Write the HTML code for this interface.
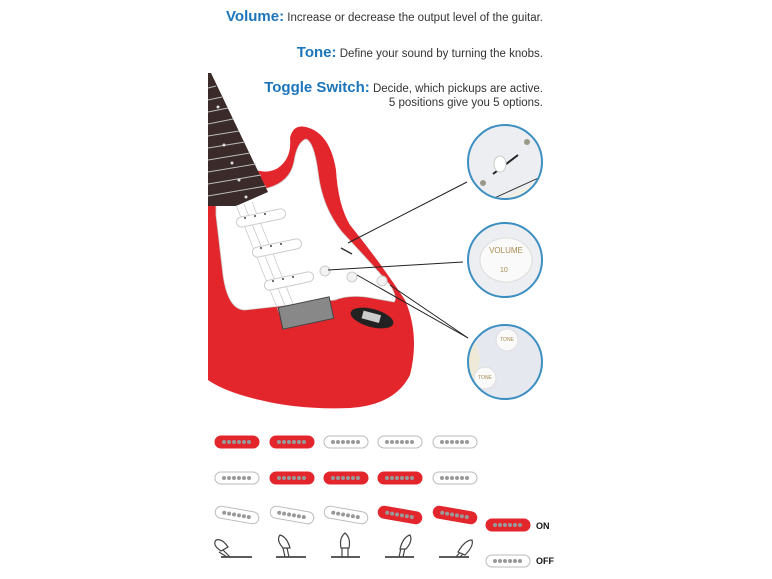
<!DOCTYPE html>
<html><head><meta charset="utf-8"><style>
html,body{margin:0;padding:0;background:#fff;width:772px;height:579px;overflow:hidden}
svg{display:block}
text{font-family:"Liberation Sans",sans-serif}
</style></head><body>
<svg width="772" height="579" viewBox="0 0 772 579" xmlns="http://www.w3.org/2000/svg">
<defs>
<g id="pu"><rect x="-22" y="-6" width="44" height="12" rx="6"/><g fill="#999" stroke="none"><circle cx="-13" cy="0" r="2"/><circle cx="-8" cy="0" r="2"/><circle cx="-3" cy="0" r="2"/><circle cx="2" cy="0" r="2"/><circle cx="7" cy="0" r="2"/><circle cx="12" cy="0" r="2"/></g></g>
<clipPath id="c1"><circle cx="505" cy="162" r="37"/></clipPath>
<clipPath id="c3"><circle cx="505" cy="362" r="37"/></clipPath>
</defs>
<g text-anchor="end" fill="#333" font-size="11.5">
<text x="543" y="21"><tspan fill="#1b75bb" font-weight="bold" font-size="15">Volume:</tspan> Increase or decrease the output level of the guitar.</text>
<text x="543" y="57"><tspan fill="#1b75bb" font-weight="bold" font-size="15">Tone:</tspan> Define your sound by turning the knobs.</text>
<text x="543" y="92"><tspan fill="#1b75bb" font-weight="bold" font-size="15">Toggle Switch:</tspan> Decide, which pickups are active.</text>
<text x="543" y="106">5 positions give you 5 options.</text>
</g>
<!-- body -->
<path d="M208,150 L235,160 Q262,178 278,168 Q292,158 290,138 Q293,124 306,127 Q330,133 336,170 Q338,205 350,225 Q380,262 405,300 Q420,335 410,375 Q395,405 350,408 Q300,410 260,400 Q225,392 208,380 Z" fill="#e3262c"/>
<path d="M216,196 L268,188 Q290,182 294,162 Q297,142 306,139 Q314,142 318,172 Q322,207 342,232 Q372,264 390,285 Q398,298 394,302 L372,298 Q350,294 335,300 L245,310 Q228,310 223,275 L216,215 Z" fill="#fff" stroke="#ccc" stroke-width="0.8"/>
<!-- neck -->
<path d="M208,73 L211,73 L268,192 L236,206 L208,206 Z" fill="#3a2a2a"/>
<g stroke="#bbb" stroke-width="1">
<line x1="208" y1="88" x2="216" y2="86"/><line x1="208" y1="100" x2="222" y2="97"/><line x1="208" y1="112" x2="228" y2="108"/><line x1="208" y1="124" x2="233" y2="119"/><line x1="208" y1="136" x2="239" y2="131"/><line x1="208" y1="148" x2="245" y2="142"/><line x1="208" y1="160" x2="250" y2="153"/><line x1="208" y1="172" x2="256" y2="164"/><line x1="208" y1="184" x2="261" y2="175"/><line x1="208" y1="196" x2="266" y2="186"/>
</g>
<g fill="#ddd"><circle cx="218" cy="107" r="1.5"/><circle cx="224" cy="145" r="1.5"/><circle cx="232" cy="163" r="1.5"/><circle cx="239" cy="180" r="1.5"/><circle cx="246" cy="197" r="1.5"/></g>
<g stroke="#bbb" stroke-width="0.6"><line x1="236" y1="205" x2="282" y2="320"/><line x1="244" y1="204" x2="290" y2="318"/><line x1="252" y1="202" x2="298" y2="316"/></g>
<g fill="#fff" stroke="#ccc" stroke-width="1">
<rect x="236" y="213" width="50" height="10" rx="5" transform="rotate(-12 261 218)"/>
<rect x="252" y="243" width="50" height="10" rx="5" transform="rotate(-12 277 248)"/>
<rect x="264" y="276" width="50" height="10" rx="5" transform="rotate(-12 289 281)"/>
</g>
<g fill="#444"><circle cx="245" cy="218" r="1"/><circle cx="255" cy="216" r="1"/><circle cx="265" cy="214" r="1"/><circle cx="261" cy="248" r="1"/><circle cx="271" cy="246" r="1"/><circle cx="281" cy="244" r="1"/><circle cx="273" cy="281" r="1"/><circle cx="283" cy="279" r="1"/><circle cx="293" cy="277" r="1"/></g>
<rect x="280" y="302" width="52" height="22" fill="#888" stroke="#444" transform="rotate(-12 306 313)"/>
<ellipse cx="372" cy="318" rx="22" ry="9" fill="#222" transform="rotate(15 372 318)"/>
<rect x="362" y="313" width="18" height="8" fill="#ccc" transform="rotate(15 372 318)"/>
<circle cx="325" cy="271" r="5" fill="#f2f2f2" stroke="#ccc"/><circle cx="352" cy="277" r="5" fill="#f2f2f2" stroke="#ccc"/><circle cx="382" cy="281" r="5" fill="#f2f2f2" stroke="#ccc"/>
<line x1="341" y1="248" x2="352" y2="254" stroke="#333" stroke-width="1.5"/>
<g stroke="#222" stroke-width="1"><line x1="348" y1="243" x2="467" y2="182"/><line x1="328" y1="270" x2="463" y2="262"/><line x1="357" y1="275" x2="468" y2="338"/><line x1="390" y1="285" x2="468" y2="338"/></g>
<circle cx="505" cy="162" r="37" fill="#eceef2"/>
<g clip-path="url(#c1)"><path d="M490,205 L545,178 L545,205 Z" fill="#f3efe0"/><line x1="490" y1="200" x2="545" y2="175" stroke="#333"/><line x1="493" y1="174" x2="518" y2="155" stroke="#222" stroke-width="2"/><ellipse cx="500" cy="164" rx="6" ry="8" fill="#fff" stroke="#ccc"/><circle cx="483" cy="183" r="3" fill="#998"/><circle cx="527" cy="142" r="3" fill="#998"/></g>
<circle cx="505" cy="162" r="37" fill="none" stroke="#3d8fc2" stroke-width="2"/>
<circle cx="505" cy="260" r="37" fill="#eceef2"/>
<ellipse cx="506" cy="260" rx="26" ry="22" fill="#fafafa" stroke="#ddd"/>
<text x="506" y="253" font-size="8" fill="#a88a50" text-anchor="middle">VOLUME</text>
<text x="500" y="272" font-size="7" fill="#a88a50">10</text>
<circle cx="505" cy="260" r="37" fill="none" stroke="#3d8fc2" stroke-width="2"/>
<circle cx="505" cy="362" r="37" fill="#e6e8f0"/>
<g clip-path="url(#c3)"><path d="M468,340 Q475,330 480,360 L470,400 Z" fill="#efe9d8"/><circle cx="507" cy="340" r="11" fill="#fafafa" stroke="#ddd"/><circle cx="485" cy="378" r="11" fill="#fafafa" stroke="#ddd"/><line x1="520" y1="400" x2="545" y2="375" stroke="#333"/></g>
<text x="507" y="341" font-size="5" fill="#a88a50" text-anchor="middle">TONE</text>
<text x="485" y="379" font-size="5" fill="#a88a50" text-anchor="middle">TONE</text>
<circle cx="505" cy="362" r="37" fill="none" stroke="#3d8fc2" stroke-width="2"/>
<g stroke="#bbb" stroke-width="1">
<use href="#pu" x="237" y="442" fill="#e3262c" stroke="#e3262c"/><use href="#pu" x="292" y="442" fill="#e3262c" stroke="#e3262c"/><use href="#pu" x="346" y="442" fill="#fff"/><use href="#pu" x="400" y="442" fill="#fff"/><use href="#pu" x="455" y="442" fill="#fff"/>
<use href="#pu" x="237" y="478" fill="#fff"/><use href="#pu" x="292" y="478" fill="#e3262c" stroke="#e3262c"/><use href="#pu" x="346" y="478" fill="#e3262c" stroke="#e3262c"/><use href="#pu" x="400" y="478" fill="#e3262c" stroke="#e3262c"/><use href="#pu" x="455" y="478" fill="#fff"/>
<g transform="translate(237 515) rotate(10)"><use href="#pu" fill="#fff"/></g>
<g transform="translate(292 515) rotate(10)"><use href="#pu" fill="#fff"/></g>
<g transform="translate(346 515) rotate(10)"><use href="#pu" fill="#fff"/></g>
<g transform="translate(400 515) rotate(10)"><use href="#pu" fill="#e3262c" stroke="#e3262c"/></g>
<g transform="translate(455 515) rotate(10)"><use href="#pu" fill="#e3262c" stroke="#e3262c"/></g>
<use href="#pu" x="508" y="525" fill="#e3262c" stroke="#e3262c"/><use href="#pu" x="508" y="561" fill="#fff"/>
</g>
<text x="536" y="529" font-size="9" font-weight="bold" fill="#111">ON</text>
<text x="536" y="564" font-size="9" font-weight="bold" fill="#111">OFF</text>
<g stroke="#444" stroke-width="1.2" fill="#fff">
<line x1="221" y1="557" x2="252" y2="557" stroke-width="1.8"/><line x1="276" y1="557" x2="306" y2="557" stroke-width="1.8"/><line x1="331" y1="557" x2="360" y2="557" stroke-width="1.8"/><line x1="385" y1="557" x2="414" y2="557" stroke-width="1.8"/><line x1="439" y1="557" x2="469" y2="557" stroke-width="1.8"/>
<path d="M230,557 L222,549 M227,557 L219,552" /><path d="M221,551 Q212,545 216,540 Q222,538 228,547 Z"/>
<path d="M285,557 L283,548 M289,557 L287,548"/><path d="M283,548 Q276,540 280,535 Q287,537 290,548 Z"/>
<path d="M342,557 L342,548 M348,557 L348,548"/><path d="M341,548 Q339,538 345,533 Q351,538 349,548 Z"/>
<path d="M399,557 L401,548 M403,557 L405,548"/><path d="M400,549 Q403,537 410,535 Q413,541 406,549 Z"/>
<path d="M456,557 L462,550 M460,557 L465,552"/><path d="M458,552 Q465,540 472,540 Q474,546 465,555 Z"/>
</g>
</svg>
</body></html>
